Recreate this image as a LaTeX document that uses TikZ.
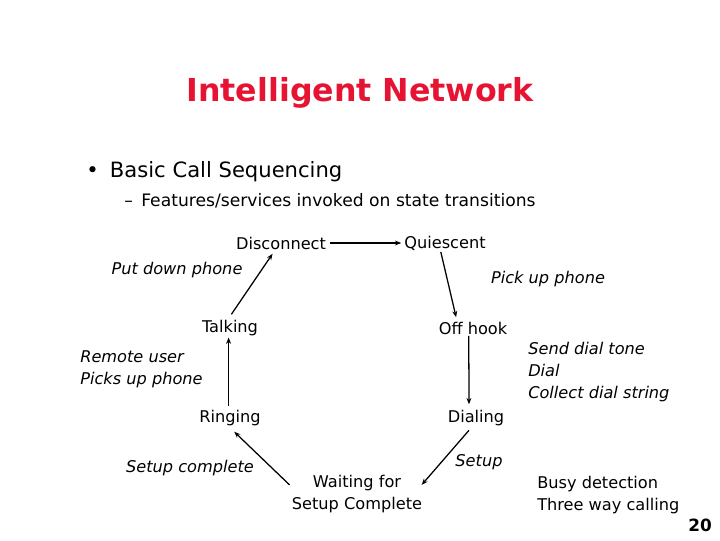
\documentclass[tikz,border=0pt]{standalone}
\usepackage{fontspec}
\setmainfont{DejaVu Sans}
\usetikzlibrary{arrows.meta}
\definecolor{titlered}{RGB}{230,20,50}

\begin{document}
\begin{tikzpicture}[x=0.025cm,y=-0.025cm,
  state/.style={font=\fontsize{11.5}{15.5}\selectfont,inner sep=1pt},
  note/.style={font=\fontsize{11.5}{15.5}\selectfont\itshape,inner sep=0pt,align=left},
  trans/.style={-{Stealth[length=4.5pt,width=3.5pt]},line width=0.9pt}]
\useasboundingbox (0,0) rectangle (720,540);
\node[font=\fontsize{22.5}{26}\selectfont\bfseries,text=titlered] (title) at (360,93) {Intelligent Network};
\node[anchor=west,font=\fontsize{15}{18}\selectfont,inner sep=0pt] (bullet) at (86,172) {\textbullet\hspace{8pt}Basic Call Sequencing};
\node[anchor=west,font=\fontsize{12.2}{14}\selectfont,inner sep=0pt] (sub) at (124,201) {--\hspace{6pt}Features/services invoked on state transitions};
% states
\node[state] (disc) at (281,243) {Disconnect};
\node[state] (quies) at (445,243) {Quiescent};
\node[state] (talk) at (230,328) {Talking};
\node[state] (offhook) at (473,328) {Off hook};
\node[state] (ring) at (230,418) {Ringing};
\node[state] (dial) at (476,418) {Dialing};
\node[state,align=center] (wait) at (357,494) {Waiting for\\Setup Complete};
% notes on transitions
\node[note] (putdown) at (177,270) {Put down phone};
\node[note] (pickup) at (548,279) {Pick up phone};
\node[note,anchor=west] (remote) at (80,369) {Remote user\\Picks up phone};
\node[note,anchor=west] (sendtone) at (528,372) {Send dial tone\\Dial\\Collect dial string};
\node[note] (setupdone) at (190,468) {Setup complete};
\node[note] (setup) at (479,462) {Setup};
\node[state,anchor=west,align=left,inner sep=0pt] (busy) at (537,495) {Busy detection\\Three way calling};
\node[font=\bfseries\fontsize{12}{14}\selectfont] (page) at (700,525) {20};
% transitions
\draw[trans] ([xshift=2pt]disc.east) -- ([xshift=-1pt]quies.west);
\draw[trans] ([xshift=-3pt]quies.south) -- ([xshift=-12pt,yshift=2pt]offhook.north);
\draw[trans] ([xshift=-3pt]offhook.south) -- ([xshift=-5pt,yshift=3pt]dial.north);
\draw[trans] ([xshift=-5pt,yshift=-2pt]dial.south) -- ([xshift=46pt,yshift=-8pt]wait.north);
\draw[trans] ([xshift=-48pt,yshift=-8pt]wait.north) -- ([xshift=3pt,yshift=-3pt]ring.south);
\draw[trans] ([xshift=-1pt,yshift=2pt]ring.north) -- ([xshift=-1pt]talk.north |- talk.south);
\draw[trans] ([xshift=1pt,yshift=3pt]talk.north) -- ([xshift=-6pt,yshift=-2pt]disc.south);
\end{tikzpicture}
\end{document}
